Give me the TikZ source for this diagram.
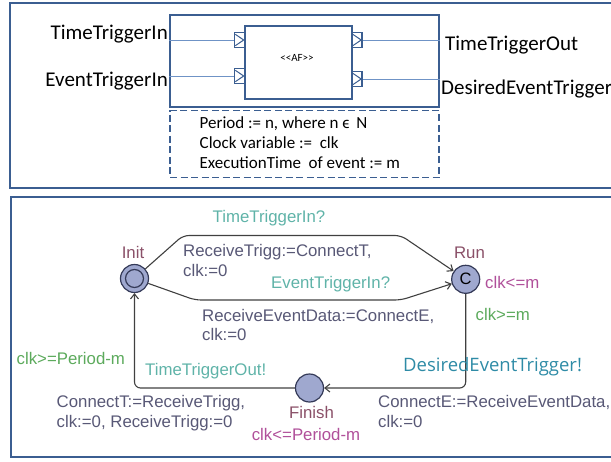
\documentclass[tikz,border=0pt]{standalone}
\usepackage{fontspec}
\setmainfont{Liberation Sans}
\newfontfamily\calibri{Carlito}
\newfontfamily\segoe{Open Sans}
\usetikzlibrary{arrows.meta}

\begin{document}
\begin{tikzpicture}[x=1pt,y=-1pt]

  \definecolor{panelcol}{RGB}{59,94,145}
  \definecolor{sigcol}{RGB}{111,147,198}
  \definecolor{loccol}{RGB}{159,168,207}
  \definecolor{locline}{RGB}{52,58,88}
  \definecolor{edgecol}{RGB}{64,64,64}
  \definecolor{synccol}{RGB}{95,179,168}
  \definecolor{outcol}{RGB}{46,139,166}
  \definecolor{asgcol}{RGB}{88,88,118}
  \definecolor{namecol}{RGB}{138,80,104}
  \definecolor{invcol}{RGB}{176,80,154}
  \definecolor{guardcol}{RGB}{92,170,92}

  \tikzset{
      panel/.style={draw=panelcol,line width=1.3pt},
      blk/.style={draw=panelcol,line width=1.4pt,inner sep=0pt},
      port/.style={blk,fill=white,minimum width=10pt,minimum height=15pt},
      sigline/.style={draw=sigcol,line width=1pt},
      iflbl/.style={font=\calibri\fontsize{21}{24}\selectfont,inner sep=0pt},
      attrlbl/.style={font=\calibri\fontsize{17}{20}\selectfont,anchor=base west,inner sep=0pt},
      loc/.style={circle,draw=locline,line width=1.2pt,fill=loccol,minimum size=28pt,inner sep=0pt},
      edge/.style={draw=edgecol,line width=1.1pt,rounded corners=6pt,-{Straight Barb[length=5pt,width=8pt]}},
      ulbl/.style={font=\fontsize{16.8}{19.5}\selectfont,inner sep=0pt,align=left},
    }

  \useasboundingbox (0,0) rectangle (611,461);

  %% interface of the AF block.
  \draw[panel] (10,3) rectangle (614,188);

  \node[blk,minimum width=269pt,minimum height=92pt] (afbox) at (304.5,61) {};
  \node[blk,minimum width=107pt,minimum height=73pt] (afcore) at (298.5,62.5) {};
  \node[font=\calibri\fontsize{11}{13}\selectfont,anchor=base,inner sep=0pt] (stereo) at (297,61) {<{}<AF>{}>};

  \foreach \p/\px/\py in {pTin/239.5/40, pEin/239.5/76, pTout/357/40, pDout/357/79} {
    \node[port] (\p) at (\px,\py) {};
    \draw[panelcol,line width=1pt] ([xshift=1.5pt,yshift=-2.5pt]\p.north west) -- ([xshift=-1.5pt]\p.east)
      -- ([xshift=1.5pt,yshift=2.5pt]\p.south west);
  }

  \draw[sigline] (afbox.west |- pTin) -- (pTin.west);
  \draw[sigline] (afbox.west |- pEin) -- (pEin.west);
  \draw[sigline] (pTout.east) -- (afbox.east |- pTout);
  \draw[sigline] (pDout.east) -- (afbox.east |- pDout);

  \node[iflbl,anchor=base east] (lTin) at (168,39) {TimeTriggerIn};
  \node[iflbl,anchor=base east] (lEin) at (168,86) {EventTriggerIn};
  \node[iflbl,anchor=base west] (lTout) at (445,50) {TimeTriggerOut};
  \node[iflbl,anchor=base west] (lDout) at (441,94) {DesiredEventTrigger};

  % attributes under the block.
  \node[draw=panelcol,line width=1.3pt,dash pattern=on 7pt off 3.5pt,minimum width=269pt,minimum height=67pt] (attr) at (304.5,144) {};
  \node[attrlbl] (aPer) at (199.5,128) {Period := n, where n ϵ \,N};
  \node[attrlbl] (aClk) at (199.5,148) {Clock variable := \ clk};
  \node[attrlbl] (aExe) at (199.5,168) {ExecutionTime \ of event := m};

  %% timed automaton.
  \draw[panel] (11,197) rectangle (614,457);

  \node[loc] (init) at (134.5,278.5) {};
  \node[circle,draw=locline,line width=1.2pt,minimum size=18pt,inner sep=0pt] (initin) at (init) {};
  \node[loc,font=\fontsize{16.5}{19}\selectfont] (run) at (465.7,279.3) {C};
  \node[loc] (finish) at (309.5,388) {};

  \coordinate (up1) at (183,235.5);
  \coordinate (up2) at (401,235.5);
  \coordinate (lo1) at (195,300);
  \coordinate (lo2) at (401,300);

  \draw[edge] (init) -- (up1) -- (up2) -- (run);
  \draw[edge] (init) -- (lo1) -- (lo2) -- (run);
  \draw[edge] (run) -- (run |- finish) -- (finish);
  \draw[edge] (finish) -- (finish -| init) -- (init);

  \node[ulbl,namecol,anchor=base] (nInit) at (133,258) {Init};
  \node[ulbl,namecol,anchor=base] (nRun) at (469.5,258) {Run};
  \node[ulbl,namecol,anchor=base] (nFin) at (311.5,418) {Finish};

  \node[ulbl,invcol,anchor=base west] (iRun) at (485,288) {clk<=m};
  \node[ulbl,invcol,anchor=base] (iFin) at (306,440.5) {clk<=Period-m};

  \node[ulbl,synccol,anchor=base] (sTin) at (269,222.5) {TimeTriggerIn?};
  \node[ulbl,synccol,anchor=base west] (sEin) at (271,288) {EventTriggerIn?};
  \node[ulbl,synccol,anchor=base west] (sTout) at (145,375) {TimeTriggerOut!};
  \node[font=\segoe\fontsize{18.5}{22}\selectfont,inner sep=0pt,outcol,anchor=base west] (sDout) at (403,371.5) {DesiredEventTrigger!};

  \node[ulbl,guardcol,anchor=base west] (gRun) at (475.5,320.5) {clk>=m};
  \node[ulbl,guardcol,anchor=base west] (gFin) at (16.5,364) {clk>=Period-m};

  % two-line updates: the base is the last line.
  \node[ulbl,asgcol,anchor=base west] (aUp) at (183,276) {ReceiveTrigg:=ConnectT,\\clk:=0};
  \node[ulbl,asgcol,anchor=base west] (aLo) at (202,340.5) {ReceiveEventData:=ConnectE,\\clk:=0};
  \node[ulbl,asgcol,anchor=base west] (aFin) at (56.5,427) {ConnectT:=ReceiveTrigg,\\clk:=0, ReceiveTrigg:=0};
  \node[ulbl,asgcol,anchor=base west] (aRun) at (378,427) {ConnectE:=ReceiveEventData,\\clk:=0};

\end{tikzpicture}
\end{document}
